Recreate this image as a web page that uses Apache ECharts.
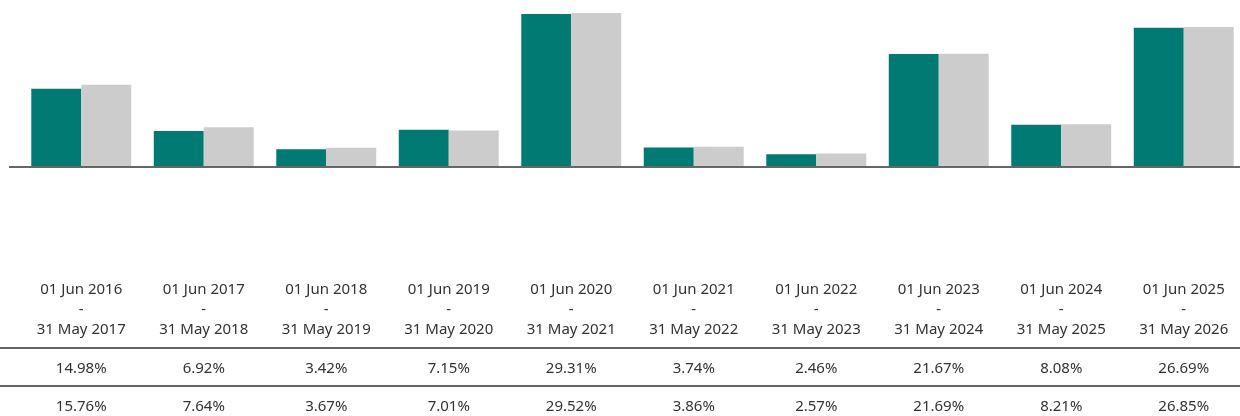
<!DOCTYPE html>
<html>
<head>
<meta charset="utf-8">
<script src="https://cdn.jsdelivr.net/npm/echarts@6/dist/echarts.min.js"></script>
<style>
  html, body { margin: 0; padding: 0; background: #fff; overflow: hidden; }
  #chart { width: 1245px; height: 416px; }
</style>
</head>
<body>
<div id="chart"></div>
<script>
// Periodos y rentabilidades (%)
const periods = [
  "01 Jun 2016\n-\n31 May 2017", "01 Jun 2017\n-\n31 May 2018", "01 Jun 2018\n-\n31 May 2019",
  "01 Jun 2019\n-\n31 May 2020", "01 Jun 2020\n-\n31 May 2021", "01 Jun 2021\n-\n31 May 2022",
  "01 Jun 2022\n-\n31 May 2023", "01 Jun 2023\n-\n31 May 2024", "01 Jun 2024\n-\n31 May 2025",
  "01 Jun 2025\n-\n31 May 2026"
];
const fundValues  = [14.98, 6.92, 3.42, 7.15, 29.31, 3.74, 2.46, 21.67, 8.08, 26.69];
const indexValues = [15.76, 7.64, 3.67, 7.01, 29.52, 3.86, 2.57, 21.69, 8.21, 26.85];

const TEAL = "#007a73";
const GREY = "#cccccc";
const LINE = "#666666";
const FONT = "Noto Sans";

const pct = (v) => v.toFixed(2) + "%";

const dom = document.getElementById("chart");
const myChart = echarts.init(dom, undefined, { renderer: "canvas" });

const tableAxis = (labels, offset, margin) => ({
  type: "category",
  position: "bottom",
  offset: offset,
  data: labels,
  axisLine:  { show: false },
  axisTick:  { show: false },
  axisLabel: { color: "#333", fontFamily: FONT, fontSize: 15, margin: margin, interval: 0 }
});

const option = {
  animation: false,
  grid: { left: 20, right: 0, top: 0, height: 167, containLabel: false },
  xAxis: [
    {
      type: "category",
      data: periods,
      axisLine:  { show: false },
      axisTick:  { show: false },
      axisLabel: {
        color: "#333", fontFamily: FONT, fontSize: 15,
        lineHeight: 20, margin: 113, interval: 0
      }
    },
    tableAxis(fundValues.map(pct), 181, 13),
    tableAxis(indexValues.map(pct), 219, 13)
  ],
  yAxis: [{
    type: "value", min: 0, max: 32,
    show: false, splitLine: { show: false }
  }],
  series: [
    {
      name: "Fund", type: "bar", data: fundValues,
      barGap: "0%", barCategoryGap: "18.4%",
      itemStyle: { color: TEAL }
    },
    {
      name: "Index", type: "bar", data: indexValues,
      barGap: "0%", barCategoryGap: "18.4%",
      itemStyle: { color: GREY }
    }
  ]
};

myChart.setOption(option);

// Línea base y separadores de la tabla
const baseY = myChart.convertToPixel({ yAxisIndex: 0 }, 0);
myChart.setOption({
  graphic: [
    { type: "line", shape: { x1: 9, y1: baseY, x2: 1240, y2: baseY }, style: { stroke: LINE, lineWidth: 2 }, z: 10 },
    { type: "line", shape: { x1: 0, y1: 348, x2: 1240, y2: 348 }, style: { stroke: LINE, lineWidth: 2 } },
    { type: "line", shape: { x1: 0, y1: 386, x2: 1240, y2: 386 }, style: { stroke: LINE, lineWidth: 2 } }
  ]
});
</script>
</body>
</html>
